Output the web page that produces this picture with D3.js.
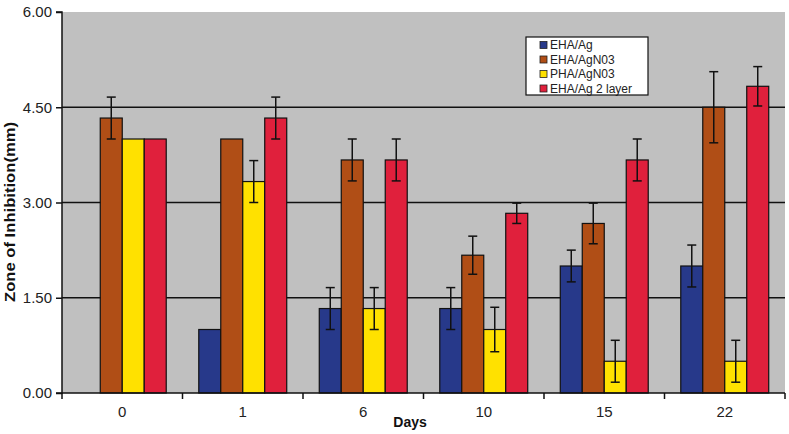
<!DOCTYPE html>
<html>
<head>
<meta charset="utf-8">
<script src="https://cdn.jsdelivr.net/npm/d3@7"></script>
<style>
  html, body { margin: 0; padding: 0; background: #fff; }
  svg { display: block; }
  text { font-family: "Liberation Sans", Arial, sans-serif; }
</style>
</head>
<body>
<svg id="chart" width="789" height="434"></svg>
<script>
const days = ["0", "1", "6", "10", "15", "22"];
const seriesNames = ["EHA/Ag", "EHA/AgN03", "PHA/AgN03", "EHA/Ag 2 layer"];
const ehaAg = [null, 1.0, 1.33, 1.33, 2.0, 2.0];
const ehaAgErr = [null, null, 0.33, 0.33, 0.25, 0.33];
const ehaAgNO3 = [4.33, 4.0, 3.67, 2.17, 2.67, 4.5];
const ehaAgNO3Err = [0.33, null, 0.33, 0.30, 0.32, 0.56];
const phaAgNO3 = [4.0, 3.33, 1.33, 1.0, 0.5, 0.5];
const phaAgNO3Err = [null, 0.33, 0.33, 0.35, 0.33, 0.33];
const eha2Layer = [4.0, 4.33, 3.67, 2.83, 3.67, 4.83];
const eha2LayerErr = [null, 0.33, 0.33, 0.16, 0.33, 0.31];
const yTicks = [0, 1.5, 3.0, 4.5, 6.0];
const colors = ["#27398a", "#b04e16", "#ffe100", "#e0203c"];

const values = [ehaAg, ehaAgNO3, phaAgNO3, eha2Layer];
const errors = [ehaAgErr, ehaAgNO3Err, phaAgNO3Err, eha2LayerErr];

const svg = d3.select("#chart");
const mLeft = 62, mRight = 785, mTop = 12, mBottom = 393;

const x0 = d3.scaleBand().domain(days).range([mLeft, mRight]).padding(0);
const x1 = d3.scaleBand().domain(seriesNames).range([0, x0.bandwidth()]).paddingInner(0).paddingOuter(0.74);
const y = d3.scaleLinear().domain([0, 6]).range([mBottom, mTop]);

// plot background
svg.append("rect").attr("x", mLeft).attr("y", mTop).attr("width", mRight - mLeft).attr("height", mBottom - mTop).attr("fill", "#c0c0c0");

// gridlines
svg.append("g").selectAll("line").data(yTicks.filter(d => d > 0 && d < 6)).join("line")
  .attr("x1", mLeft).attr("x2", mRight).attr("y1", d => y(d)).attr("y2", d => y(d))
  .attr("stroke", "#111").attr("stroke-width", 1.5);

// bars
const rows = [];
days.forEach((d, i) => {
  seriesNames.forEach((s, j) => {
    rows.push({ day: d, series: s, idx: j, v: values[j][i], e: errors[j][i] });
  });
});

svg.append("g").selectAll("rect").data(rows.filter(r => r.v != null)).join("rect")
  .attr("x", r => x0(r.day) + x1(r.series))
  .attr("y", r => y(r.v))
  .attr("width", x1.bandwidth())
  .attr("height", r => y(0) - y(r.v))
  .attr("fill", r => colors[r.idx])
  .attr("stroke", "#111").attr("stroke-width", 1.2);

// error bars
const eg = svg.append("g").attr("stroke", "#111").attr("stroke-width", 1.5);
rows.filter(r => r.v != null && r.e != null).forEach(r => {
  const cx = x0(r.day) + x1(r.series) + x1.bandwidth() / 2;
  const yt = y(r.v + r.e), yb = y(r.v - r.e);
  eg.append("line").attr("x1", cx).attr("x2", cx).attr("y1", yt).attr("y2", yb);
  eg.append("line").attr("x1", cx - 4.5).attr("x2", cx + 4.5).attr("y1", yt).attr("y2", yt);
  eg.append("line").attr("x1", cx - 4.5).attr("x2", cx + 4.5).attr("y1", yb).attr("y2", yb);
});

// y axis
const yAxis = d3.axisLeft(y).tickValues(yTicks).tickFormat(d3.format(".2f")).tickSize(6).tickPadding(4);
const ya = svg.append("g").attr("transform", `translate(${mLeft},0)`).call(yAxis);
ya.select(".domain").attr("stroke", "#111").attr("stroke-width", 1.5).attr("d", `M-6,${mTop}H0V${mBottom}H-6`);
ya.selectAll(".tick line").attr("stroke", "#111").attr("stroke-width", 1.5);
ya.selectAll(".tick text").attr("font-size", 15).attr("fill", "#222").attr("font-family", "Liberation Sans, Arial, sans-serif");

// x axis
const xAxis = d3.axisBottom(x0).tickSize(0).tickPadding(13);
const xa = svg.append("g").attr("transform", `translate(0,${mBottom})`).call(xAxis);
xa.select(".domain").attr("stroke", "#111").attr("stroke-width", 1.5).attr("d", `M${mLeft},0H${mRight}`);
xa.selectAll(".tick text").attr("font-size", 15).attr("fill", "#222").attr("font-family", "Liberation Sans, Arial, sans-serif");
// category boundary ticks
svg.append("g").selectAll("line").data(days.concat(["end"])).join("line")
  .attr("x1", (d, i) => i < days.length ? x0(d) : mRight)
  .attr("x2", (d, i) => i < days.length ? x0(d) : mRight)
  .attr("y1", mBottom).attr("y2", mBottom + 6)
  .attr("stroke", "#111").attr("stroke-width", 1.5);

// axis titles
svg.append("text").attr("x", 410).attr("y", 427).attr("text-anchor", "middle")
  .attr("font-size", 14).attr("font-weight", "bold").attr("fill", "#111").text("Days");
svg.append("text").attr("transform", "translate(15,212) rotate(-90)").attr("text-anchor", "middle")
  .attr("font-size", 15).attr("font-weight", "bold").attr("fill", "#111")
  .attr("textLength", 180).attr("lengthAdjust", "spacingAndGlyphs")
  .text("Zone of Inhibition(mm)");

// legend
const lg = svg.append("g");
lg.append("rect").attr("x", 526).attr("y", 37).attr("width", 122).attr("height", 58)
  .attr("fill", "#fff").attr("stroke", "#111").attr("stroke-width", 1.2);
seriesNames.forEach((s, i) => {
  const cy = 45 + i * 14.5;
  lg.append("rect").attr("x", 540).attr("y", cy - 3.5).attr("width", 7).attr("height", 7)
    .attr("fill", colors[i]).attr("stroke", "#222").attr("stroke-width", 0.8);
  lg.append("text").attr("x", 550).attr("y", cy + 4.2).attr("font-size", 12).attr("fill", "#222").text(s);
});
</script>
</body>
</html>
